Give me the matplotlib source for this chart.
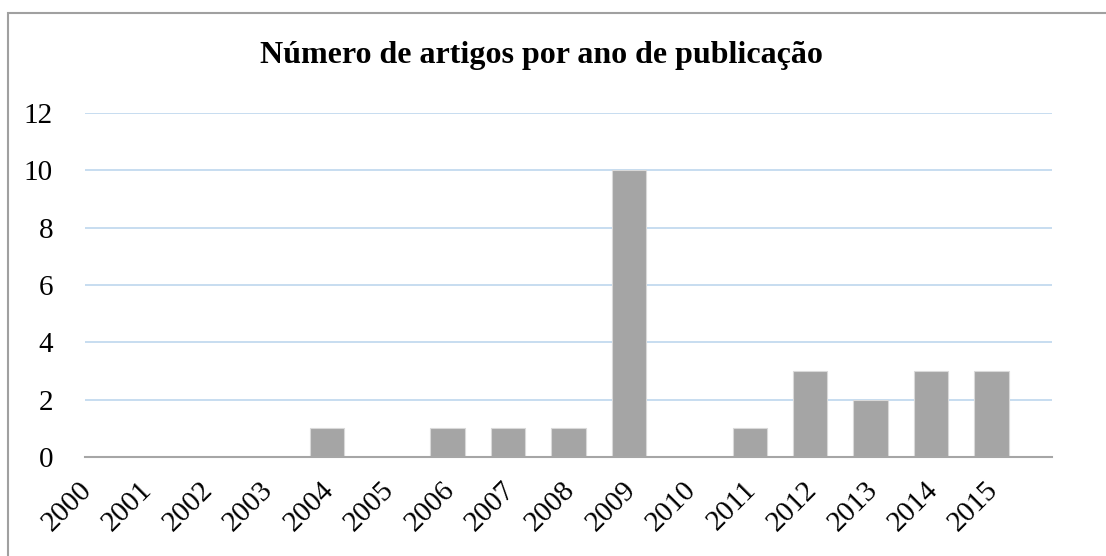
import numpy as np
import matplotlib.pyplot as plt
import matplotlib.transforms as mtransforms
from matplotlib.patches import Rectangle

anos = ['2000', '2001', '2002', '2003', '2004', '2005', '2006', '2007',
        '2008', '2009', '2010', '2011', '2012', '2013', '2014', '2015']
artigos = [0, 0, 0, 0, 1, 0, 1, 1, 1, 10, 0, 1, 3, 2, 3, 3]
yticks = [0, 2, 4, 6, 8, 10, 12]

W, H = 1106, 556
fig = plt.figure(figsize=(W / 100, H / 100), dpi=100)
ax = fig.add_axes([85 / W, 1 - 457 / H, (1052 - 85) / W, (457 - 113) / H])

x = np.arange(len(anos))
ax.bar(x, artigos, width=0.57, color='#a5a5a5', edgecolor='#d9d9d9',
       linewidth=0.8, zorder=3)

ax.set_xlim(0, 16)
ax.set_ylim(0, 12)
ax.set_yticks(yticks)
ax.yaxis.grid(True, color='#bdd7ee', linewidth=1.2, zorder=0)
ax.set_axisbelow(True)
for s in ['left', 'right', 'top']:
    ax.spines[s].set_visible(False)
ax.spines['bottom'].set_color('#a6a6a6')
ax.spines['bottom'].set_linewidth(1.5)
ax.spines['bottom'].set_zorder(4)
ax.tick_params(length=0)

font = 'Liberation Serif'
ax.set_yticklabels([str(v) for v in yticks], fontsize=21, family=font)
ax.tick_params(axis='y', pad=23)
ax.set_xticks(x)
ax.set_xticklabels(anos, fontsize=21, family=font, rotation=45,
                   ha='right', va='top')
offset = mtransforms.ScaledTranslation(12 / 100, -15 / 100, fig.dpi_scale_trans)
for lab in ax.get_xticklabels():
    lab.set_transform(lab.get_transform() + offset)

fig.text(541 / W, 1 - 55 / H, 'Número de artigos por ano de publicação',
         ha='center', va='center', fontsize=23, fontweight='bold', family=font)

fig.patches.append(Rectangle((8 / W, -0.1), 1.2, 1.1 - 13 / H,
                             transform=fig.transFigure, fill=False,
                             edgecolor='#a0a0a0', linewidth=1.5))

fig.savefig('out.png', dpi=100)
